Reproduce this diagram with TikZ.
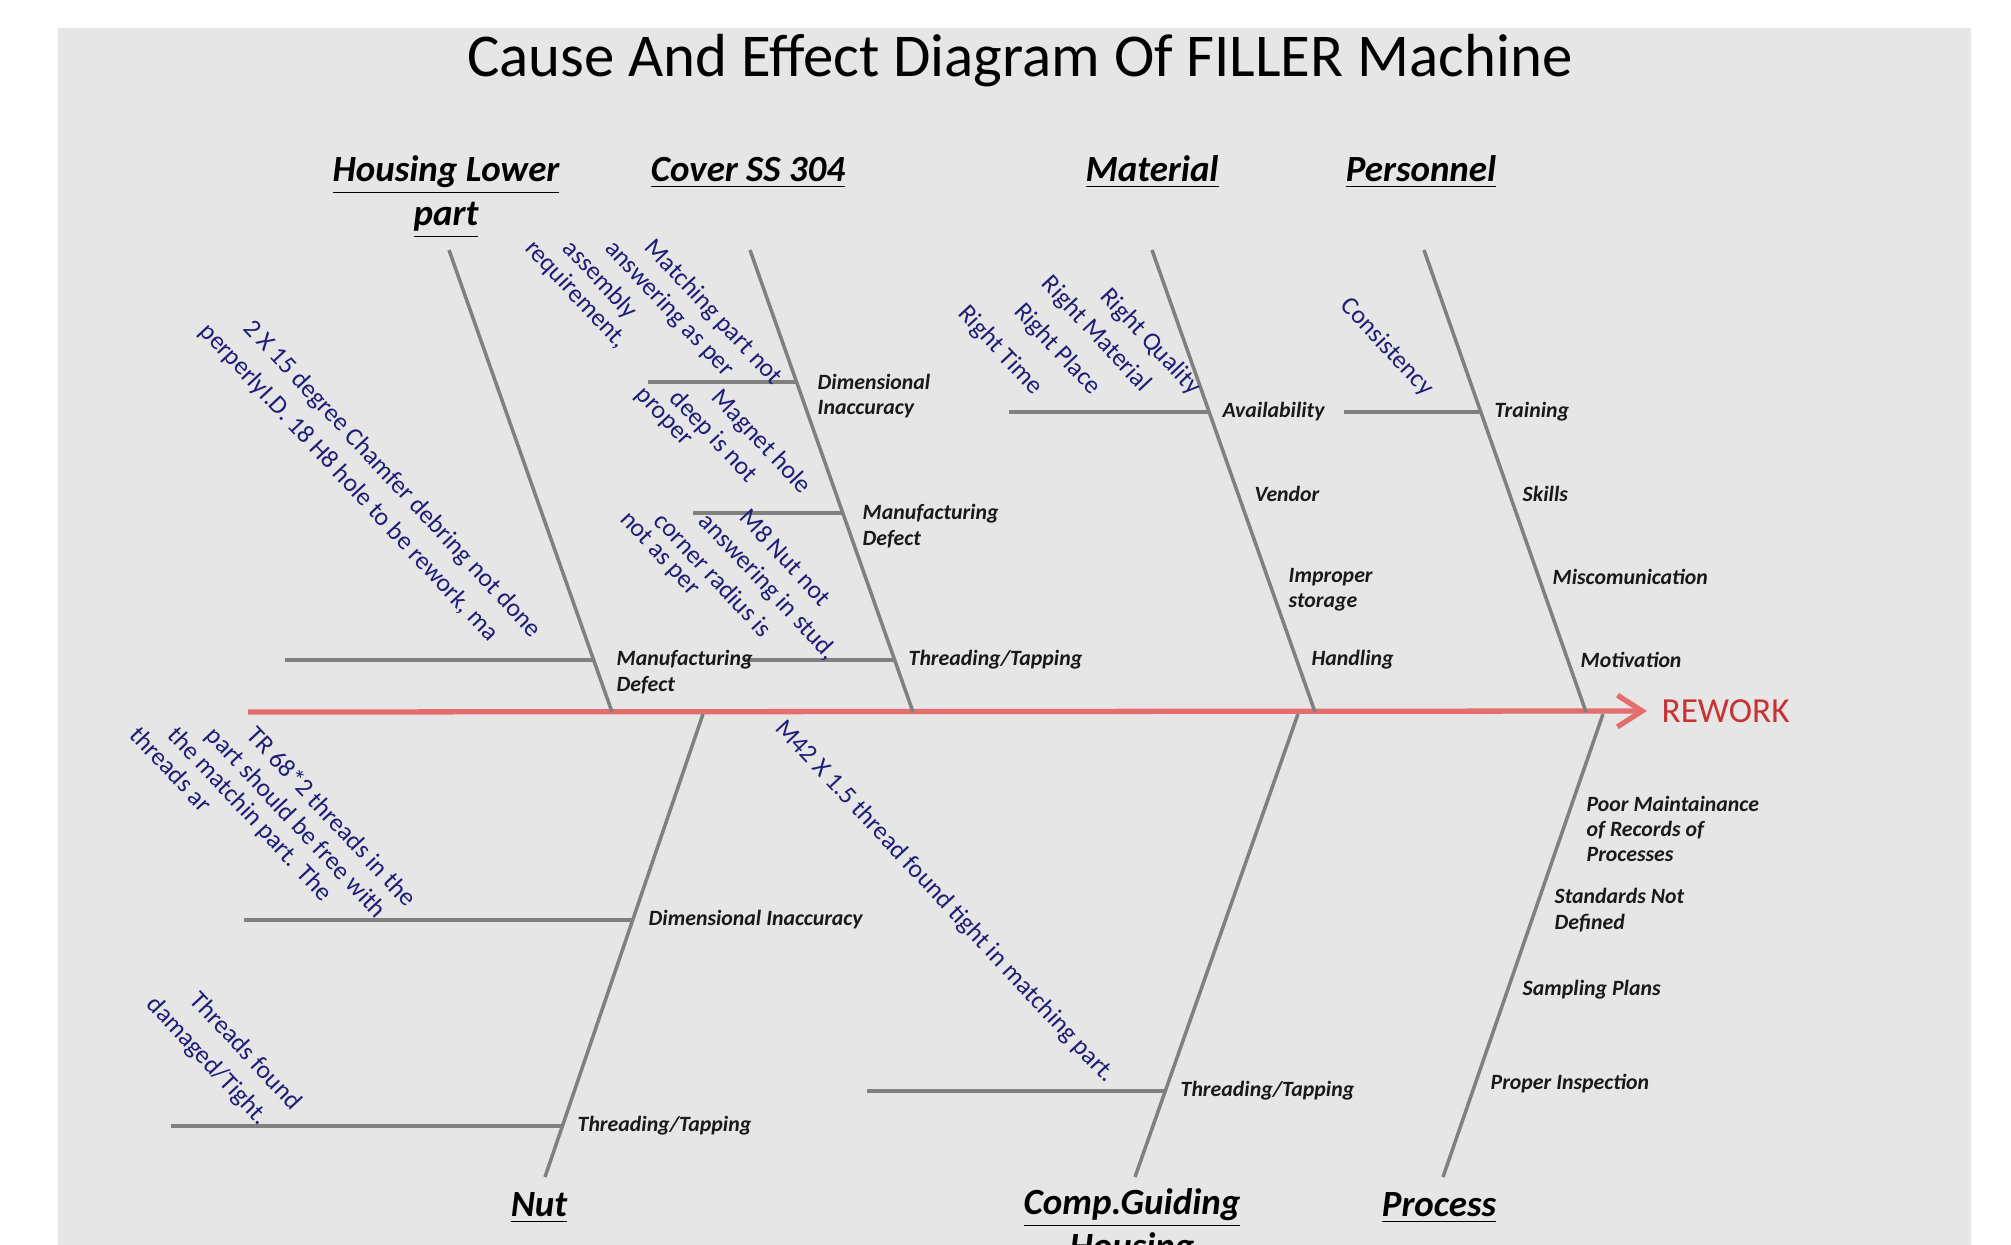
\documentclass[tikz,border=0pt]{standalone}
\usepackage{fontspec}
\setmainfont{Carlito}
\usepackage{tikz}
\usetikzlibrary{arrows.meta,positioning}

\definecolor{bggray}{RGB}{230,230,230}
\definecolor{bonegray}{RGB}{128,128,128}
\definecolor{spinered}{RGB}{228,110,110}
\definecolor{reworkred}{RGB}{200,50,50}
\definecolor{causeblue}{RGB}{30,30,120}

\begin{document}
\begin{tikzpicture}[
    x=0.01cm, y=-0.01cm,
    bone/.style={draw=bonegray, line width=1pt},
    branch/.style={draw=bonegray, line width=1pt},
    spine/.style={draw=spinered, line width=1.5pt, -{Straight Barb[length=7pt,width=9pt]}},
    header/.style={font=\fontsize{10.5}{12.6}\selectfont\bfseries\itshape, align=center, inner sep=0pt},
    sublabel/.style={font=\fontsize{6.2}{7.2}\selectfont\bfseries\itshape, align=left, anchor=west, inner sep=0pt, text=black!90},
    reason/.style={font=\fontsize{7.3}{9}\selectfont, text=causeblue, rotate=-47, inner sep=0pt, anchor=north west},
    reasonend/.style={reason, anchor=south east}
]

\useasboundingbox (0,0) rectangle (2011,1245);
\fill[bggray] (58,28) rectangle (1971,1245);

\node[font=\fontsize{17.3}{21}\selectfont, anchor=base] (title) at (1020,76) {Cause And Effect Diagram Of FILLER Machine};

% bone headers
\node[header] (housing) at (446,197) {\underline{Housing Lower}\\\underline{part}};
\node[header] (cover) at (748,173) {\underline{Cover SS 304}};
\node[header] (material) at (1152,172) {\underline{Material}};
\node[header] (personnel) at (1421,172) {\underline{Personnel}};
\node[header] (nut) at (539,1208) {\underline{Nut}};
\node[header] (guiding) at (1132,1230) {\underline{Comp.Guiding}\\\underline{Housing}};
\node[header] (process) at (1439,1208) {\underline{Process}};

% spine
\coordinate (tail) at (248,712);
\node[anchor=west, inner sep=0pt, text=reworkred, font=\fontsize{10}{12}\selectfont] (rework) at (1661,711) {REWORK};
\draw[spine] (tail) -- ([xshift=-4pt]rework.west);

% bones
\coordinate (housing-top) at (449,250);   \coordinate (housing-end) at (612,712);
\coordinate (cover-top) at (750,250);     \coordinate (cover-end) at (913,712);
\coordinate (material-top) at (1152,250); \coordinate (material-end) at (1315,712);
\coordinate (personnel-top) at (1424,250);\coordinate (personnel-end) at (1586,712);
\coordinate (nut-top) at (703,714);       \coordinate (nut-end) at (545,1177);
\coordinate (guiding-top) at (1298,714);  \coordinate (guiding-end) at (1135,1177);
\coordinate (process-top) at (1603,714);  \coordinate (process-end) at (1443,1177);

\draw[bone] (housing-top) -- (housing-end);
\draw[bone] (cover-top) -- (cover-end);
\draw[bone] (material-top) -- (material-end);
\draw[bone] (personnel-top) -- (personnel-end);
\draw[bone] (nut-top) -- (nut-end);
\draw[bone] (guiding-top) -- (guiding-end);
\draw[bone] (process-top) -- (process-end);

% branches
\coordinate (housing-mfg) at (594,660);   \coordinate (housing-mfg-tip) at (285,660);
\coordinate (cover-dim) at (797,382);     \coordinate (cover-dim-tip) at (648,382);
\coordinate (cover-mfg) at (843,513);     \coordinate (cover-mfg-tip) at (693,513);
\coordinate (cover-thr) at (895,660);     \coordinate (cover-thr-tip) at (744,660);
\coordinate (material-av) at (1209,412);  \coordinate (material-av-tip) at (1009,412);
\coordinate (personnel-tr) at (1481,412); \coordinate (personnel-tr-tip) at (1344,412);
\coordinate (nut-dim) at (633,920);       \coordinate (nut-dim-tip) at (244,920);
\coordinate (nut-thr) at (562,1126);      \coordinate (nut-thr-tip) at (171,1126);
\coordinate (guiding-thr) at (1165,1091); \coordinate (guiding-thr-tip) at (867,1091);

\draw[branch] (housing-mfg-tip) -- (housing-mfg);
\draw[branch] (cover-dim-tip) -- (cover-dim);
\draw[branch] (cover-mfg-tip) -- (cover-mfg);
\draw[branch] (cover-thr-tip) -- (cover-thr);
\draw[branch] (material-av-tip) -- (material-av);
\draw[branch] (personnel-tr-tip) -- (personnel-tr);
\draw[branch] (nut-dim-tip) -- (nut-dim);
\draw[branch] (nut-thr-tip) -- (nut-thr);
\draw[branch] (guiding-thr-tip) -- (guiding-thr);

% sub causes
\node[sublabel] (l-hmfg) at (616,672) {Manufacturing\\Defect};
\node[sublabel] (l-cdim) at (817,396) {Dimensional\\Inaccuracy};
\node[sublabel] (l-cmfg) at (862,526) {Manufacturing\\Defect};
\node[sublabel] (l-cthr) at (908,660) {Threading/Tapping};
\node[sublabel] (l-mav) at (1222,412) {Availability};
\node[sublabel] (l-mven) at (1254,494) {Vendor};
\node[sublabel] (l-msto) at (1288,590) {Improper\\storage};
\node[sublabel] (l-mhan) at (1311,660) {Handling};
\node[sublabel] (l-ptr) at (1494,412) {Training};
\node[sublabel] (l-psk) at (1522,494) {Skills};
\node[sublabel] (l-pmis) at (1552,577) {Miscomunication};
\node[sublabel] (l-pmot) at (1580,660) {Motivation};
\node[sublabel] (l-ndim) at (648,920) {Dimensional Inaccuracy};
\node[sublabel] (l-nthr) at (577,1126) {Threading/Tapping};
\node[sublabel] (l-gthr) at (1180,1091) {Threading/Tapping};
\node[sublabel] (l-prec) at (1586,829) {Poor Maintainance\\of Records of\\Processes};
\node[sublabel] (l-pstd) at (1554,910) {Standards Not\\Defined};
\node[sublabel] (l-psam) at (1522,990) {Sampling Plans};
\node[sublabel] (l-pins) at (1490,1084) {Proper Inspection};

% root causes (blue, slanted)
\node[reason] (hr1) at (256,316) {2 X 15 degree Chamfer debring not done};
\node[reason] (hr2) at (212,319) {perperlyI.D. 18 H8 hole to be rework, ma};

\node[reason] (cr1) at (657,235) {Matching part not};
\node[reason] (cr2) at (617,236) {answering as per};
\node[reason] (cr3) at (575,236) {assembly};
\node[reason] (cr4) at (537,236) {requirement,};

\node[reason] (cr5) at (724,385) {Magnet hole};
\node[reason] (cr6) at (682,386) {deep is not};
\node[reason] (cr7) at (644,386) {proper};

\node[reason] (cr8) at (751,506) {M8 Nut not};
\node[reason] (cr9) at (711,509) {answering in stud,};
\node[reason] (cr10) at (666,509) {corner radius is};
\node[reason] (cr11) at (631,508) {not as per};

\node[reasonend] (mr1) at (1188,400) {Right Quality};
\node[reasonend] (mr2) at (1138,397) {Right Material};
\node[reasonend] (mr3) at (1088,400) {Right Place};
\node[reasonend] (mr4) at (1030,400) {Right Time};

\node[reasonend] (pr1) at (1421,401) {Consistency};

\node[reason] (nr1) at (259,723) {TR 68*2 threads in the};
\node[reason] (nr2) at (218,723) {part should be free with};
\node[reason] (nr3) at (180,723) {the matchin part. The};
\node[reason] (nr4) at (142,723) {threads ar};

\node[reason] (nr5) at (202,988) {Threads found};
\node[reason] (nr6) at (159,992) {damaged/Tight.};

\node[reason] (gr1) at (788,716) {M42 X 1.5 thread found tight in matching part.};

\end{tikzpicture}
\end{document}
